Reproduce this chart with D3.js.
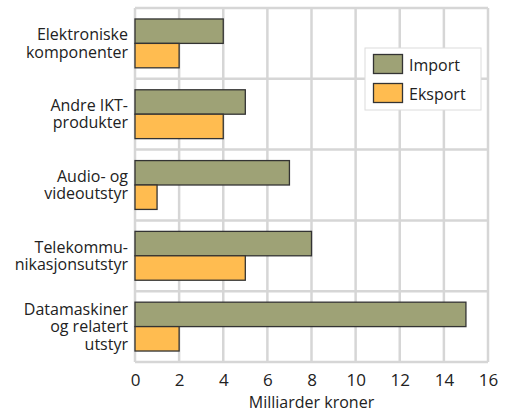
<!DOCTYPE html>
<html>
<head>
<meta charset="utf-8">
<script src="https://cdn.jsdelivr.net/npm/d3@7"></script>
<style>
  body { margin: 0; background: #fff; }
  text { font-family: "Open Sans", sans-serif; fill: #222; }
</style>
</head>
<body>
<svg id="chart"></svg>
<script>
// data
const categories = [
  ["Elektroniske", "komponenter"],
  ["Andre IKT-", "produkter"],
  ["Audio- og", "videoutstyr"],
  ["Telekommu-", "nikasjonsutstyr"],
  ["Datamaskiner", "og relatert", "utstyr"]
];
const importValues = [4, 5, 7, 8, 15];
const exportValues = [2, 4, 1, 5, 2];
const seriesNames = ["Import", "Eksport"];
const xTicks = [0, 2, 4, 6, 8, 10, 12, 14, 16];
const xTitle = "Milliarder kroner";

const W = 508, H = 414;
const margin = {top: 8, right: 20, bottom: 52, left: 135};
const colors = ["#9ea276", "#ffbc50"];

const svg = d3.select("#chart").attr("width", W).attr("height", H);

const x = d3.scaleLinear().domain([0, 16]).range([margin.left, W - margin.right]);
const y = d3.scaleBand()
  .domain(d3.range(categories.length))
  .range([margin.top, H - margin.bottom])
  .paddingInner(0.31)
  .paddingOuter(0.155);
const step = y.step();
const sub = d3.scaleBand().domain([0, 1]).range([0, y.bandwidth()]);

// grid
const grid = svg.append("g").attr("stroke", "#d6d6d6").attr("stroke-width", 2.5);
xTicks.forEach(t => {
  grid.append("line")
    .attr("x1", x(t)).attr("x2", x(t))
    .attr("y1", margin.top).attr("y2", H - margin.bottom);
});
d3.range(categories.length + 1).forEach(k => {
  const yy = margin.top + k * step;
  grid.append("line")
    .attr("x1", x(0)).attr("x2", x(16))
    .attr("y1", yy).attr("y2", yy);
});

// bars
const data = categories.map((c, i) => [importValues[i], exportValues[i]]);
const groups = svg.selectAll(".cat")
  .data(data)
  .enter().append("g")
  .attr("transform", (d, i) => `translate(0,${y(i)})`);

groups.selectAll("rect")
  .data(d => d)
  .enter().append("rect")
  .attr("x", x(0))
  .attr("y", (d, j) => sub(j))
  .attr("width", d => x(d) - x(0))
  .attr("height", sub.bandwidth())
  .attr("fill", (d, j) => colors[j])
  .attr("stroke", "#333")
  .attr("stroke-width", 1.3);

// category labels
const lineH = 17.5;
categories.forEach((lines, i) => {
  const cy = y(i) + y.bandwidth() / 2;
  const t = svg.append("text")
    .attr("text-anchor", "end")
    .attr("font-size", 16);
  lines.forEach((l, k) => {
    t.append("tspan")
      .attr("x", margin.left - 7)
      .attr("y", cy + (k - (lines.length - 1) / 2) * lineH + 5.5)
      .text(l);
  });
});

// x axis
const xAxis = svg.append("g")
  .attr("transform", `translate(0,${H - margin.bottom})`)
  .call(d3.axisBottom(x).tickValues(xTicks).tickSize(0).tickPadding(12));
xAxis.select(".domain").remove();
xAxis.selectAll("text").attr("font-size", 17).attr("fill", "#222")
  .style("font-family", "'Open Sans', sans-serif");

svg.append("text")
  .attr("x", (x(0) + x(16)) / 2)
  .attr("y", 408)
  .attr("text-anchor", "middle")
  .attr("font-size", 16)
  .text(xTitle);

// legend
const lg = svg.append("g").attr("transform", "translate(365,48)");
lg.append("rect")
  .attr("width", 116).attr("height", 62)
  .attr("fill", "#fff").attr("stroke", "#dcdcdc").attr("stroke-width", 1);
seriesNames.forEach((n, j) => {
  lg.append("rect")
    .attr("x", 8.5).attr("y", 6.5 + j * 29)
    .attr("width", 29).attr("height", 19)
    .attr("fill", colors[j]).attr("stroke", "#333").attr("stroke-width", 1.3);
  lg.append("text")
    .attr("x", 44).attr("y", 23 + j * 29)
    .attr("font-size", 16)
    .text(n);
});
</script>
</body>
</html>
